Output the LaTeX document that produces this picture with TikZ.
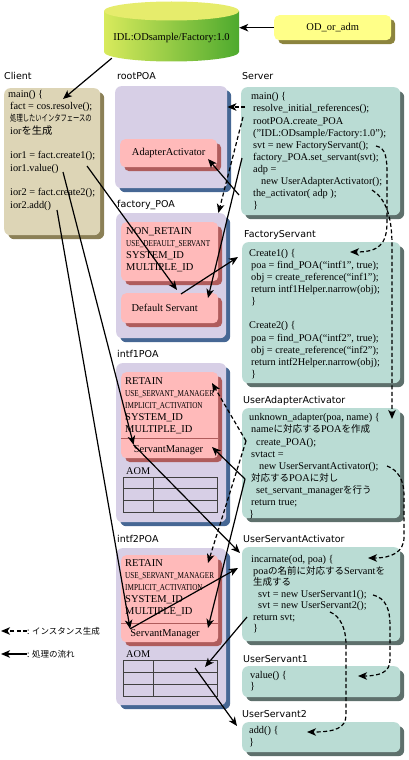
\documentclass[tikz,border=0pt]{standalone}
\usepackage{fontspec}
\setmainfont{Liberation Serif}
\newfontfamily\titlefam{DejaVu Sans}
\newfontfamily\jpfam{Noto Sans CJK JP}
\newfontfamily\jpcondfam[FakeStretch=0.7]{Noto Sans CJK JP}
\newfontfamily\condfam[FakeStretch=0.8]{Liberation Serif}
\usepackage{tikz}
\usetikzlibrary{positioning,%
  calc,%
  arrows.meta,%
  shadows
}

\definecolor{clientfill}{RGB}{221,213,182}
\definecolor{clientshadow}{RGB}{139,128,86}
\definecolor{poafill}{RGB}{215,207,230}
\definecolor{poashadow}{RGB}{70,103,148}
\definecolor{pinkfill}{RGB}{255,186,186}
\definecolor{pinkshadow}{RGB}{175,92,92}
\definecolor{tealfill}{RGB}{186,220,212}
\definecolor{tealshadow}{RGB}{94,112,108}
\definecolor{yellowfill}{RGB}{255,255,136}
\definecolor{yellowshadow}{RGB}{140,132,62}
\definecolor{dbtop}{RGB}{230,236,108}
\definecolor{dbleft}{RGB}{216,234,92}
\definecolor{dbright}{RGB}{78,170,46}

\newcommand{\codefont}{\fontsize{10.3}{12.1}\selectfont}
\newcommand{\capsfont}{\fontsize{10.5}{12}\selectfont}
\newcommand{\titlefont}{\titlefam\fontsize{9.5}{11}\selectfont}
\newcommand{\jp}[1]{{\jpfam\fontsize{9.5}{12}\selectfont #1}}
\newcommand{\jpsmall}[1]{{\jpcondfam\fontsize{9}{12}\selectfont #1}}
\newcommand{\cond}[1]{{\condfam\fontsize{9}{12}\selectfont #1}}

\begin{document}
\begin{tikzpicture}
  [
    x=1pt, y=-1pt,
    every node/.style={inner sep=0pt},
    panel/.style 2 args={fill=#1, rounded corners=6pt, anchor=north west,
      general shadow={fill=#2, shadow xshift=4pt, shadow yshift=-4pt}},
    codetext/.style={font=\codefont, align=left, anchor=north west,
      execute at begin node={\rule{0pt}{8pt}}},
    pinktext/.style={codetext, font=\capsfont},
    boxtitle/.style={font=\titlefont, anchor=base west},
    aomline/.style={draw=black!75, line width=0.6pt},
    flow/.style={line width=1.2pt, -{Stealth[length=9pt,width=7.5pt,inset=2.5pt]}},
    inst/.style={flow, dash pattern=on 4pt off 2.5pt}
  ]

  \useasboundingbox (0,0) rectangle (409,760);

  % Datenbank
  \shade[left color=dbleft, right color=dbright] (104,11) -- (104,52)
    arc[start angle=180, end angle=360, x radius=67.5pt, y radius=9.5pt] -- (239,11) -- cycle;
  \fill[dbtop] (171.5,11) ellipse[x radius=67.5pt, y radius=9.5pt];
  \node[minimum width=135pt, minimum height=40pt, font=\capsfont] (db) at (171.5,38) {IDL:ODsample/Factory:1.0};
  \node[panel={yellowfill}{yellowshadow}, minimum width=117pt, minimum height=25pt,
    rounded corners=5pt, font=\capsfont] (odadm) at (274,15) {OD\_or\_adm};

  % Titel
  \node[boxtitle] (tClient) at (4,80) {Client};
  \node[boxtitle] (tRoot) at (117,80) {rootPOA};
  \node[boxtitle] (tServer) at (242,80) {Server};
  \node[boxtitle] (tFactory) at (117,207) {factory\_POA};
  \node[boxtitle] (tFS) at (244,237) {FactoryServant};
  \node[boxtitle] (tIntf1) at (117,357) {intf1POA};
  \node[boxtitle] (tUAA) at (243,403) {UserAdapterActivator};
  \node[boxtitle] (tIntf2) at (117,542) {intf2POA};
  \node[boxtitle] (tUSA) at (243,542) {UserServantActivator};
  \node[boxtitle] (tUS1) at (243,662) {UserServant1};
  \node[boxtitle] (tUS2) at (242,717) {UserServant2};

  % Kaesten
  \node[panel={clientfill}{clientshadow}, minimum width=96pt, minimum height=147pt] (client) at (4,88) {};
  \node[panel={poafill}{poashadow}, minimum width=112pt, minimum height=102pt] (root) at (115,86) {};
  \node[panel={pinkfill}{pinkshadow}, minimum width=97pt, minimum height=28pt,
    rounded corners=5pt, font=\capsfont] (aa) at (120,139) {AdapterActivator};
  \node[panel={tealfill}{tealshadow}, minimum width=159pt, minimum height=128pt] (server) at (241,87) {};
  \node[panel={poafill}{poashadow}, minimum width=110pt, minimum height=125pt] (fpoa) at (116,213) {};
  \node[panel={pinkfill}{pinkshadow}, minimum width=97pt, minimum height=59pt, rounded corners=5pt] (pk0) at (121,222) {};
  \node[panel={pinkfill}{pinkshadow}, minimum width=97pt, minimum height=30pt,
    rounded corners=5pt, font=\capsfont] (ds) at (121,293) {Default Servant\hspace*{10pt}};
  \node[panel={tealfill}{tealshadow}, minimum width=158pt, minimum height=141pt] (fs) at (242,242) {};
  \node[panel={poafill}{poashadow}, minimum width=110pt, minimum height=159pt] (intf1) at (116,363) {};
  \node[panel={pinkfill}{pinkshadow}, minimum width=97pt, minimum height=86pt, rounded corners=5pt] (pk1) at (121,372) {};
  \node[panel={tealfill}{tealshadow}, minimum width=158pt, minimum height=110pt] (uaa) at (242,408) {};
  \node[panel={poafill}{poashadow}, minimum width=110pt, minimum height=157pt] (intf2) at (116,548) {};
  \node[panel={pinkfill}{pinkshadow}, minimum width=97pt, minimum height=87pt, rounded corners=5pt] (pk2) at (121,555) {};
  \node[panel={tealfill}{tealshadow}, minimum width=158pt, minimum height=94pt] (usa) at (242,547) {};
  \node[panel={tealfill}{tealshadow}, minimum width=158pt, minimum height=31pt] (us1) at (242,666) {};
  \node[panel={tealfill}{tealshadow}, minimum width=158pt, minimum height=30pt] (us2) at (242,722) {};

  \draw[pinkshadow, line width=0.8pt] ($(pk1.north west)+(0,66)$) -- ($(pk1.north east)+(0,66)$);
  \draw[pinkshadow, line width=0.8pt] ($(pk2.north west)+(0,68)$) -- ($(pk2.north east)+(0,68)$);

  % AOM
  \node[anchor=base west, font=\codefont] (aom1) at (126,474) {AOM};
  \draw[aomline] (123,477) rectangle (217,512) (153,477) -- (153,512)
    (123,488) -- (217,488) (123,500) -- (217,500);
  \node[anchor=base west, font=\codefont] (aom2) at (126,657) {AOM};
  \draw[aomline] (123,660) rectangle (217,696) (153,660) -- (153,696)
    (123,672) -- (217,672) (123,684) -- (217,684);

  % Texte
  \node[codetext, font=\fontsize{10.3}{12.3}\selectfont] (clientcode) at (8,90) {%
    main() \{\\
    \hspace*{2pt}fact = cos.resolve();\\
    \hspace*{2pt}\jpsmall{処理したいインタフェースの}\\
    \hspace*{2pt}ior{\jpfam を生成}\\
    \mbox{}\\
    \hspace*{2pt}ior1 = fact.create1();\\
    \hspace*{2pt}ior1.value()\\
    \mbox{}\\
    \hspace*{2pt}ior2 = fact.create2();\\
    \hspace*{2pt}ior2.add()};
  \node[codetext] (servercode) at (251,92.5) {%
    main() \{\\
    \hspace*{2pt}resolve\_initial\_references();\\
    \hspace*{2pt}rootPOA.create\_POA\\
    \hspace*{2pt}("IDL:ODsample/Factory:1.0");\\
    \hspace*{2pt}svt = new FactoryServant();\\
    \hspace*{2pt}factory\_POA.set\_servant(svt);\\
    \hspace*{2pt}adp =\\
    \hspace*{10pt}new UserAdapterActivator();\\
    \hspace*{2pt}the\_activator( adp );\\
    \hspace*{2pt}\}};
  \node[pinktext] (pk0text) at (126,227) {%
    NON\_RETAIN\\
    \cond{USE\_DEFAULT\_SERVANT}\\
    SYSTEM\_ID\\
    MULTIPLE\_ID};
  \node[codetext] (fscode) at (249,249) {%
    Create1() \{\\
    \hspace*{2pt}poa = find\_POA(“intf1”, true);\\
    \hspace*{2pt}obj = create\_reference(“inf1”);\\
    \hspace*{2pt}return intf1Helper.narrow(obj);\\
    \hspace*{2pt}\}\\
    \mbox{}\\
    Create2() \{\\
    \hspace*{2pt}poa = find\_POA(“intf2”, true);\\
    \hspace*{2pt}obj = create\_reference(“inf2”);\\
    \hspace*{2pt}return intf2Helper.narrow(obj);\\
    \hspace*{2pt}\}};
  \node[pinktext] (pk1text) at (125,377) {%
    RETAIN\\
    \cond{USE\_SERVANT\_MANAGER}\\
    \cond{IMPLICIT\_ACTIVATION}\\
    SYSTEM\_ID\\
    MULTIPLE\_ID};
  \node[anchor=base, font=\capsfont] (sm1) at (168.5,452) {ServantManager};
  \node[codetext] (uaacode) at (249,413.5) {%
    unknown\_adapter(poa, name) \{\\
    \hspace*{2pt}name\jp{に対応する}POA\jp{を作成}\\
    \hspace*{7pt}create\_POA();\\
    \hspace*{2pt}svtact =\\
    \hspace*{10pt}new UserServantActivator();\\
    \hspace*{2pt}\jp{対応する}POA\jp{に対し}\\
    \hspace*{7pt}set\_servant\_manager\jp{を行う}\\
    \hspace*{2pt}return true;\\
    \}};
  \node[pinktext] (pk2text) at (125,559) {%
    RETAIN\\
    \cond{USE\_SERVANT\_MANAGER}\\
    \cond{IMPLICIT\_ACTIVATION}\\
    SYSTEM\_ID\\
    MULTIPLE\_ID};
  \node[anchor=base, font=\capsfont] (sm2) at (165,636) {ServantManager};
  \node[codetext, font=\fontsize{10.3}{11.5}\selectfont] (usacode) at (251,555.5) {%
    incarnate(od, poa) \{\\
    \hspace*{2pt}poa\jp{の名前に対応する}Servant\jp{を}\\
    \hspace*{2pt}\jp{生成する}\\
    \hspace*{7pt}svt = new UserServant1();\\
    \hspace*{7pt}svt = new UserServant2();\\
    \hspace*{2pt}return svt;\\
    \hspace*{2pt}\}};
  \node[codetext, font=\fontsize{10.3}{11}\selectfont] (us1code) at (250,671.5) {value() \{\\\}};
  \node[codetext, font=\fontsize{10.3}{12}\selectfont] (us2code) at (249,726.5) {add() \{\\\}};

  % Ankerpunkte
  \coordinate (clientIn) at (63,99);
  \coordinate (create1) at (87,166);
  \coordinate (value1) at (63,172);
  \coordinate (add2) at (57,210);
  \coordinate (resolve) at (245,107);
  \coordinate (createPOA) at (243,117);
  \coordinate (newFS) at (376,146);
  \coordinate (setSv) at (242,158);
  \coordinate (activator) at (372,190);
  \coordinate (svAA) at (239,195);
  \coordinate (aaIn) at (208,159);
  \coordinate (dsIn1) at (177,290);
  \coordinate (dsIn2) at (208,298);
  \coordinate (dsOut) at (181,294);
  \coordinate (fsIn) at (238,257);
  \coordinate (create1In) at (350,252);
  \coordinate (uaaIn) at (392,419);
  \coordinate (cPOA) at (246,441);
  \coordinate (rt1In) at (212,383);
  \coordinate (rt2In) at (208,563);
  \coordinate (setSM) at (245,479);
  \coordinate (sm1In) at (212,447);
  \coordinate (sm2In) at (208,628);
  \coordinate (newUSA) at (387,466);
  \coordinate (usaIn) at (368,558);
  \coordinate (usaIn1) at (240,553);
  \coordinate (usaIn2) at (238,568);
  \coordinate (newUS1) at (373,595);
  \coordinate (us1In) at (358,676);
  \coordinate (newUS2) at (330,612);
  \coordinate (us2In) at (307,732);
  \coordinate (retSvt) at (247,617);
  \coordinate (aom2In) at (205,667);
  \coordinate (aom2Out) at (195,668);
  \coordinate (us2In2) at (237,726);

  % Ablauf
  \draw[flow] (odadm.west) -- (odadm.west -| db.east);
  \draw[flow] ([xshift=8pt]db.south west) -- (clientIn);
  \draw[flow] (svAA) -- (aaIn);
  \draw[flow] (create1) -- (dsIn1);
  \draw[flow] (dsOut) -- (fsIn);
  \draw[flow] (setSv) -- (dsIn2);
  \draw[flow] (value1) -- (sm1.north west);
  \draw[flow] (sm1.north west) -- (usaIn1);
  \draw[flow] (add2) -- (sm2.north west);
  \draw[flow] (sm2.north west) -- (usaIn2);
  \draw[flow] (setSM) -- (sm1In);
  \draw[flow] (setSM) -- (sm2In);
  \draw[flow] (retSvt) -- (aom2In);
  \draw[flow] (aom2Out) -- (us2In2);

  % Instanzen
  \draw[inst] (resolve) -- (resolve -| root.east);
  \draw[inst] (createPOA) -- ([xshift=-8pt]fpoa.north east);
  \draw[inst] (newFS) .. controls (386,148) and (387,158) .. (387,175) -- (387,222)
    .. controls (387,245) and (378,252) .. (create1In);
  \draw[inst] (activator) .. controls (385,198) and (392,215) .. (392,245) -- (uaaIn);
  \draw[inst] (cPOA) -- (rt1In);
  \draw[inst] (cPOA) -- (rt2In);
  \draw[inst] (newUSA) .. controls (398,470) and (404,480) .. (404,495) -- (404,537)
    .. controls (404,552) and (392,558) .. (usaIn);
  \draw[inst] (newUS1) .. controls (386,598) and (390,610) .. (390,625) -- (390,660)
    .. controls (390,672) and (380,676) .. (us1In);
  \draw[inst] (newUS2) .. controls (340,616) and (346,628) .. (346,645) -- (346,715)
    .. controls (346,728) and (335,732) .. (us2In);

  % Legende
  \node[anchor=west, font=\jpfam\fontsize{8.5}{10}\selectfont] (legInst) at (27,631) {: インスタンス生成};
  \coordinate (legInstTip) at (1,631);
  \draw[inst] (legInst.west) -- (legInstTip);
  \node[anchor=west, font=\jpfam\fontsize{8.5}{10}\selectfont] (legFlow) at (27,654) {: 処理の流れ};
  \coordinate (legFlowTip) at (1,654);
  \draw[flow] (legFlow.west) -- (legFlowTip);
\end{tikzpicture}
\end{document}
